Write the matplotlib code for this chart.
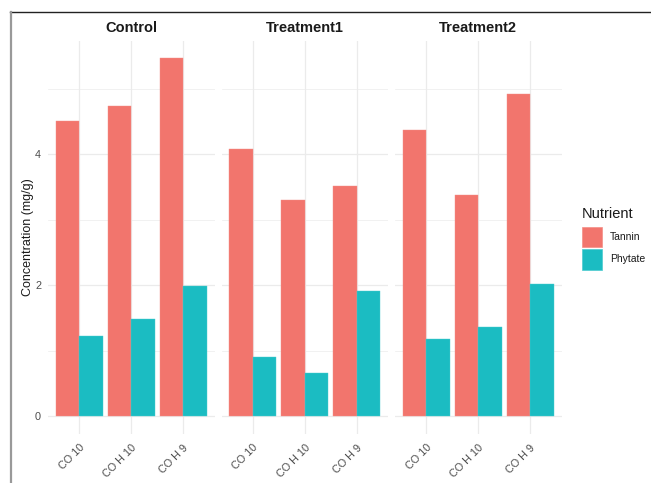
import matplotlib
matplotlib.use("Agg")
import matplotlib.pyplot as plt
from matplotlib.lines import Line2D
from matplotlib.patches import Rectangle
import numpy as np

plt.rcParams['font.family'] = ['Liberation Sans', 'DejaVu Sans']

# Data
groups = ["Control", "Treatment1", "Treatment2"]
samples = ["CO 10", "CO H 10", "CO H 9"]
nutrients = ["Tannin", "Phytate"]
tannin = {
    "Control":    [4.51, 4.73, 5.46],
    "Treatment1": [4.08, 3.30, 3.52],
    "Treatment2": [4.37, 3.38, 4.91],
}
phytate = {
    "Control":    [1.22, 1.48, 1.99],
    "Treatment1": [0.91, 0.66, 1.92],
    "Treatment2": [1.18, 1.36, 2.02],
}
colors = {"Tannin": "#F2756D", "Phytate": "#1BBCC2"}
edges = {"Tannin": "#F58E87", "Phytate": "#4CCBCF"}

W, H = 651, 483
fig = plt.figure(figsize=(W / 100, H / 100), dpi=100)


def fx(px):
    return px / W


def fy(py):
    return 1 - py / H


# Panel geometry in pixels
panel_left = [48, 221.5, 395]
panel_w = 166.5
panel_top, panel_bottom = 40.5, 434.4

ymax_data = max(max(v) for v in tannin.values())
ylim = (-0.05 * ymax_data, ymax_data * 1.05)

grid_col = "#EBEBEB"
for i, g in enumerate(groups):
    ax = fig.add_axes([fx(panel_left[i]), fy(panel_bottom),
                       fx(panel_w), (panel_bottom - panel_top) / H])
    x = np.arange(1, len(samples) + 1)
    bw = 0.45
    ax.bar(x - bw / 2, tannin[g], width=bw, color=colors["Tannin"],
           edgecolor=edges["Tannin"], linewidth=0.3, zorder=3)
    ax.bar(x + bw / 2, phytate[g], width=bw, color=colors["Phytate"],
           edgecolor=edges["Phytate"], linewidth=0.3, zorder=3)
    ax.set_xlim(0.4, 3.6)
    ax.set_ylim(*ylim)
    ax.set_yticks([0, 2, 4])
    ax.set_yticks([1, 3, 5], minor=True)
    ax.set_xticks(x)
    ax.grid(True, which="major", color=grid_col, linewidth=0.9, zorder=0)
    ax.grid(True, which="minor", axis="y", color=grid_col, linewidth=0.5, zorder=0)
    ax.set_axisbelow(True)
    for s in ax.spines.values():
        s.set_visible(False)
    ax.tick_params(which="both", length=0)
    ax.set_xticklabels(samples, rotation=45, ha="right", rotation_mode="anchor",
                       fontsize=7.8, color="#4D4D4D")
    ax.tick_params(axis="x", pad=6)
    if i == 0:
        ax.set_yticklabels(["0", "2", "4"], fontsize=7.8, color="#4D4D4D")
        ax.tick_params(axis="y", pad=5)
    else:
        ax.set_yticklabels([])
    fig.text(fx(panel_left[i] + panel_w / 2), fy(28), g, ha="center", va="center",
             fontsize=10.5, fontweight="bold", color="#1A1A1A")

# Axis title
fig.text(fx(27.5), fy((panel_top + panel_bottom) / 2), "Concentration (mg/g)",
         rotation=90, ha="center", va="center", fontsize=9, color="#1A1A1A")

# Legend
fig.text(fx(581.5), fy(214), "Nutrient", ha="left", va="center",
         fontsize=10.5, color="#1A1A1A")
key_tops = [226.7, 249.3]
for nut, kt in zip(nutrients, key_tops):
    fig.patches.append(Rectangle((fx(581.7), fy(kt + 20.3)), fx(20), 20.3 / H,
                                 transform=fig.transFigure, facecolor=colors[nut],
                                 edgecolor=edges[nut], linewidth=0.5))
    fig.text(fx(610), fy(kt + 10.2), nut, ha="left", va="center",
             fontsize=7.5, color="#1A1A1A")

# Outer frame lines
fig.add_artist(Line2D([fx(10), fx(651)], [fy(12), fy(12)],
                      transform=fig.transFigure, color="#222222", linewidth=1.0))
fig.add_artist(Line2D([fx(11), fx(11)], [fy(12), fy(483)],
                      transform=fig.transFigure, color="#999999", linewidth=1.6))

fig.savefig("out.png", dpi=100, facecolor="white")
